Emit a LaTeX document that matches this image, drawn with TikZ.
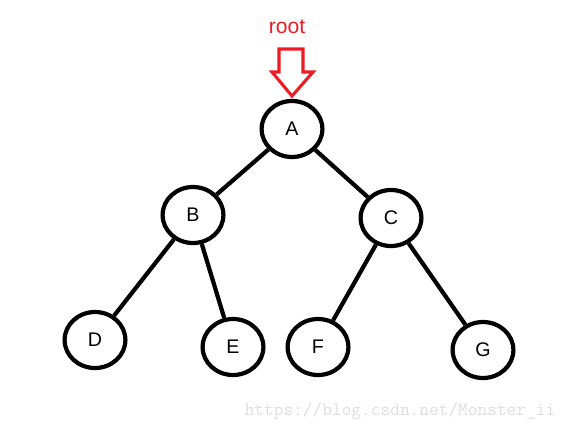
\documentclass[tikz,border=0pt]{standalone}
\usepackage{fontspec}
\setmainfont{Liberation Sans}
\usetikzlibrary{positioning,shapes.geometric}
\definecolor{myred}{HTML}{ED1C24}
\definecolor{mygray}{HTML}{DEDEDE}

\begin{document}
\begin{tikzpicture}[
    every node/.style={font=\fontsize{14}{16}\selectfont},
    vert/.style={draw=black, line width=3pt, ellipse, minimum width=1.52cm,
                 minimum height=1.4cm, inner sep=0pt},
    edge/.style={line width=3pt, black}
  ]
  \useasboundingbox (0,0) rectangle (14.3,10.725);
  % pointer to the root
  \node[text=myred, font=\fontsize{15}{17}\selectfont] (r) at (7.175, 10.05) {root};
  \draw[myred, line width=2.2pt, line join=miter]
    (6.975,9.5) -- (7.575,9.5) -- (7.575,8.925) -- (7.825,8.925)
    -- (7.3,8.325) -- (6.8,8.925) -- (6.975,8.925) -- cycle;
  % tree
  \node[vert] (A) at (7.3,   7.5)   {A};
  \node[vert] (B) at (4.825, 5.35)  {B};
  \node[vert] (C) at (9.775, 5.275) {C};
  \node[vert] (D) at (2.375, 2.225) {D};
  \node[vert] (E) at (5.825, 2.05)  {E};
  \node[vert] (F) at (7.95,  2.05)  {F};
  \node[vert] (G) at (12.075,1.975) {G};
  \draw[edge] (A)--(B);   \draw[edge] (A)--(C);
  \draw[edge] (B)--(D);   \draw[edge] (B)--(E);
  \draw[edge] (C)--(F);   \draw[edge] (C)--(G);
  \node[text=mygray, font=\ttfamily\fontsize{13.4}{15}\selectfont] (url)
    at (10.0, 0.45) {https://blog.csdn.net/Monster\_ii};
\end{tikzpicture}
\end{document}
